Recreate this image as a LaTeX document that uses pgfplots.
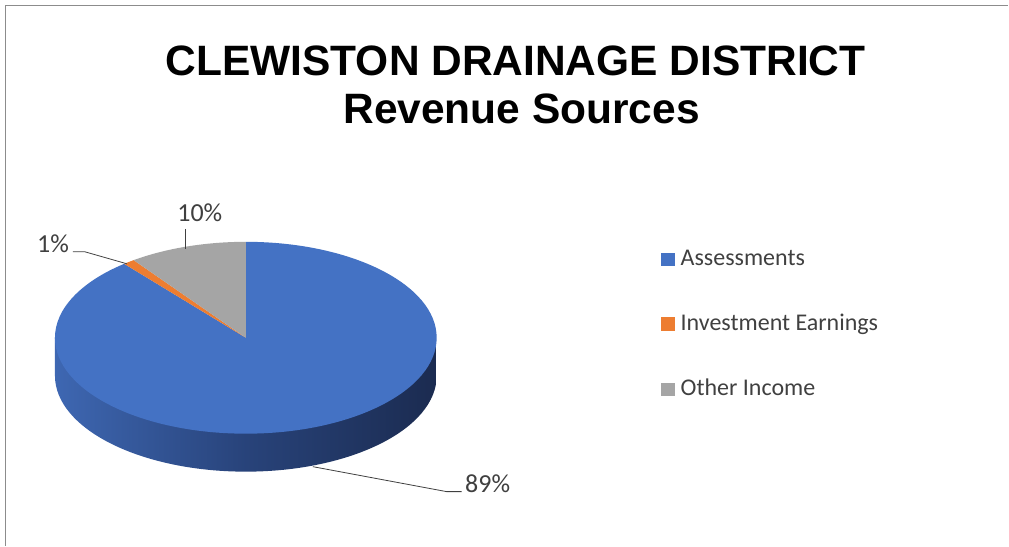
\documentclass[border=0pt]{standalone}
\usepackage{fontspec}
\setmainfont{Carlito}
\newfontfamily\titlefont{Liberation Sans}
\usepackage{pgfplots}
\usepackage{pgfplotstable}
\pgfplotsset{compat=1.18}

\definecolor{assess}{HTML}{4472C4}
\definecolor{invest}{HTML}{ED7D31}
\definecolor{other}{HTML}{A5A5A5}
\definecolor{sideL}{RGB}{62,103,178}
\definecolor{sideM}{RGB}{40,67,122}
\definecolor{sideR}{RGB}{27,43,80}
\definecolor{lbl}{HTML}{404040}
\definecolor{frame}{HTML}{8C8C8C}

% revenue shares in percent
\pgfplotstableread{
source value
Assessments 89
Investment 1
Other 10
}\pietable

\begin{document}
\begin{tikzpicture}
\pgfplotstablegetelem{0}{value}\of\pietable \let\vA\pgfplotsretval
\pgfplotstablegetelem{1}{value}\of\pietable \let\vB\pgfplotsretval
\pgfplotstablegetelem{2}{value}\of\pietable \let\vC\pgfplotsretval
% pie starts at 12 o'clock and runs clockwise
\pgfmathsetmacro\aA{90}
\pgfmathsetmacro\aB{\aA-3.6*\vA}
\pgfmathsetmacro\aC{\aB-3.6*\vB}
\pgfmathsetmacro\aD{\aC-3.6*\vC}
\def\cx{246}\def\cy{208}
\begin{axis}[
  width=1009bp, height=546bp, scale only axis,
  xmin=0, xmax=1009, ymin=0, ymax=546,
  enlargelimits=false, hide axis, clip=false]
  \path[fill=white] (axis cs:0,0) rectangle (axis cs:1009,546);
  \draw[frame, line width=1.5bp] (axis cs:5.5,0) -- (axis cs:5.5,540.5) -- (axis cs:1009,540.5);

  % title
  \node[anchor=base, inner sep=0pt, font=\titlefont\bfseries\fontsize{42.5bp}{48bp}\selectfont]
    at (axis cs:516,470) {CLEWISTON DRAINAGE DISTRICT};
  \node[anchor=base, inner sep=0pt, font=\titlefont\bfseries\fontsize{42.5bp}{48bp}\selectfont]
    at (axis cs:522,422) {Revenue Sources};

  % side of the pie (front half, all Assessments)
  \path[left color=sideL, right color=sideR, middle color=sideM]
    (axis cs:\cx,\cy) ++(-191bp,0) -- ++(0,-38bp)
    arc[start angle=180, end angle=360, x radius=191bp, y radius=96bp]
    -- ++(0,38bp) -- cycle;

  % top face
  \fill[assess] (axis cs:\cx,\cy) -- ++(\aA:191bp and 96bp)
    arc[start angle=\aA, end angle=\aB, x radius=191bp, y radius=96bp] -- cycle;
  \fill[invest] (axis cs:\cx,\cy) -- ++(\aB:191bp and 96bp)
    arc[start angle=\aB, end angle=\aC, x radius=191bp, y radius=96bp] -- cycle;
  \fill[other] (axis cs:\cx,\cy) -- ++(\aC:191bp and 96bp)
    arc[start angle=\aC, end angle=\aD, x radius=191bp, y radius=96bp] -- cycle;

  % data labels with leader lines
  \draw[lbl, line width=0.8bp] (axis cs:186,317) -- (axis cs:186,297);
  \draw[lbl, line width=0.8bp] (axis cs:73,294) -- (axis cs:85,294) -- (axis cs:127,282);
  \draw[lbl, line width=0.8bp] (axis cs:313,79) -- (axis cs:447,54) -- (axis cs:462,54);
  \node[lbl, anchor=base, inner sep=0pt, font=\fontsize{26bp}{30bp}\selectfont]
    at (axis cs:200,324) {\vC\%};
  \node[lbl, anchor=base, inner sep=0pt, font=\fontsize{26bp}{30bp}\selectfont]
    at (axis cs:53,293) {\vB\%};
  \node[lbl, anchor=base, inner sep=0pt, font=\fontsize{26bp}{30bp}\selectfont]
    at (axis cs:488,53) {\vA\%};

  % legend
  \fill[assess] (axis cs:661,280) rectangle (axis cs:675,293);
  \fill[invest] (axis cs:661,215) rectangle (axis cs:675,229);
  \fill[other]  (axis cs:661,150) rectangle (axis cs:675,163);
  \node[lbl, anchor=base west, inner sep=0pt, font=\fontsize{24bp}{28bp}\selectfont]
    at (axis cs:681,280) {Assessments};
  \node[lbl, anchor=base west, inner sep=0pt, font=\fontsize{24bp}{28bp}\selectfont]
    at (axis cs:681,215) {Investment Earnings};
  \node[lbl, anchor=base west, inner sep=0pt, font=\fontsize{24bp}{28bp}\selectfont]
    at (axis cs:681,150) {Other Income};
\end{axis}
\end{tikzpicture}
\end{document}
